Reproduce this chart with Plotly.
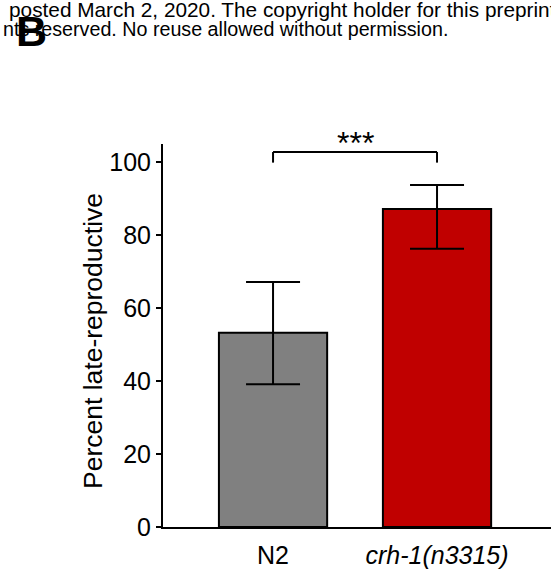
import plotly.graph_objects as go

# Data
categories = ["N2", "crh-1(n3315)"]
tick_labels = ["N2", "<i>crh-1(n3315)</i>"]
values = [53.2, 87.1]
err_plus = [13.9, 6.6]
err_minus = [14.1, 10.9]
bar_colors = ["#808080", "#C00000"]
y_ticks = [0, 20, 40, 60, 80, 100]
y_title = "Percent late-reproductive"
sig_label = "***"
sig_bracket_y = 102.7
sig_bracket_drop = 99.8
sig_label_y = 103.6

FONT = "Liberation Sans, Arial, sans-serif"

fig = go.Figure()
fig.add_trace(go.Bar(
    x=categories, y=values,
    marker=dict(color=bar_colors, line=dict(color="black", width=2)),
    width=0.66,
    error_y=dict(type="data", symmetric=False, array=err_plus, arrayminus=err_minus,
                 color="black", thickness=2, width=27),
    showlegend=False,
))

# significance bracket
fig.add_shape(type="line", xref="x", yref="y", x0=categories[0], x1=categories[0],
              y0=sig_bracket_drop, y1=sig_bracket_y, line=dict(color="black", width=2))
fig.add_shape(type="line", xref="x", yref="y", x0=categories[0], x1=categories[1],
              y0=sig_bracket_y, y1=sig_bracket_y, line=dict(color="black", width=2))
fig.add_shape(type="line", xref="x", yref="y", x0=categories[1], x1=categories[1],
              y0=sig_bracket_drop, y1=sig_bracket_y, line=dict(color="black", width=2))
fig.add_annotation(x=0.5, xref="x", y=sig_label_y, yref="y", yanchor="middle",
                   text=sig_label, showarrow=False, yshift=6,
                   font=dict(family=FONT, size=32, color="black"))

# y-axis title
fig.add_annotation(x=-0.1804, xref="paper", y=0.4856, yref="paper",
                   xanchor="center", yanchor="middle", textangle=-90,
                   text=y_title, showarrow=False,
                   font=dict(family=FONT, size=26.5, color="black"))

# header text (preprint notice) and panel letter
fig.add_annotation(x=-0.402, xref="paper", y=1.352, yref="paper", xanchor="left", yanchor="middle",
                   text="posted March 2, 2020. The copyright holder for this preprint",
                   showarrow=False, font=dict(family=FONT, size=20.8, color="black"))
fig.add_annotation(x=-0.4175, xref="paper", y=1.300, yref="paper", xanchor="left", yanchor="middle",
                   text="nts reserved. No reuse allowed without permission.",
                   showarrow=False, font=dict(family=FONT, size=19.7, color="black"))
fig.add_annotation(x=-0.339, xref="paper", y=1.294, yref="paper", xanchor="center", yanchor="middle",
                   text="<b>B</b>", showarrow=False,
                   font=dict(family=FONT, size=43, color="black"))

fig.update_layout(
    width=551, height=574,
    margin=dict(l=163, r=0, t=144, b=47, pad=0),
    plot_bgcolor="white", paper_bgcolor="white",
    font=dict(family=FONT, color="black"),
    xaxis=dict(
        range=[-0.671, 1.695],
        tickmode="array", tickvals=categories, ticktext=tick_labels,
        showline=True, linecolor="black", linewidth=2,
        ticks="", showgrid=False, zeroline=False,
        ticklabelstandoff=5,
        tickfont=dict(family=FONT, size=25, color="black"),
    ),
    yaxis=dict(
        range=[0, 104.9],
        tickmode="array", tickvals=y_ticks,
        showline=True, linecolor="black", linewidth=2,
        ticks="outside", ticklen=5, tickwidth=2, tickcolor="black",
        showgrid=False, zeroline=False,
        tickfont=dict(family=FONT, size=25, color="black"),
    ),
)

fig.write_html("out.html")
